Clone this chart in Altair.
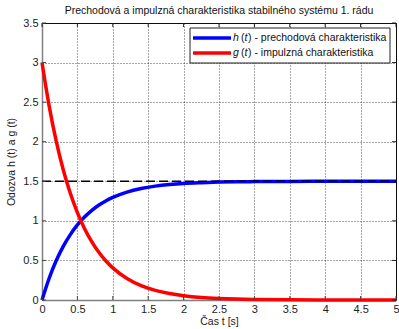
import altair as alt
import pandas as pd

t_vals = [0, 0.1, 0.2, 0.3, 0.4, 0.5, 0.6, 0.7, 0.8, 0.9, 1.0, 1.2, 1.4, 1.6, 1.8, 2.0,
          2.25, 2.5, 2.75, 3.0, 3.5, 4.0, 4.5, 5.0]
h_vals = [0, 0.272, 0.495, 0.677, 0.826, 0.948, 1.048, 1.130, 1.197, 1.252, 1.297, 1.364,
          1.409, 1.439, 1.459, 1.473, 1.483, 1.490, 1.494, 1.496, 1.4986, 1.4995, 1.4998, 1.5]
g_vals = [3.0, 2.456, 2.011, 1.646, 1.348, 1.104, 0.904, 0.740, 0.606, 0.496, 0.406, 0.272,
          0.182, 0.122, 0.082, 0.055, 0.033, 0.020, 0.012, 0.0074, 0.0027, 0.001, 0.0004, 0.0001]
steady_value = 1.5
x_ticks = [0, 0.5, 1, 1.5, 2, 2.5, 3, 3.5, 4, 4.5, 5]
y_ticks = [0, 0.5, 1, 1.5, 2, 2.5, 3, 3.5]

title = "Prechodová a impulzná charakteristika stabilného systému 1. rádu"
x_title = "Čas t [s]"
y_title = "Odozva h (t) a g (t)"

W, H = 354, 277
FONT = "Liberation Sans"

df = pd.DataFrame({"t": t_vals, "h": h_vals, "g": g_vals})
xs = alt.Scale(domain=[0, 5], nice=False)
ys = alt.Scale(domain=[0, 3.5], nice=False)

xax = alt.Axis(values=x_ticks, grid=True, gridDash=[1, 2], gridColor="#000", gridOpacity=0.7,
               domainColor="#808080", domainWidth=1.5, ticks=False, labelPadding=3,
               labelFont=FONT, labelFontSize=11, labelColor="#222", title=x_title,
               titleFont=FONT, titleFontSize=10.5, titleFontWeight="normal", titleColor="#222",
               titlePadding=2, labelFlush=False, labelOverlap=False, format="~g")
yax = alt.Axis(values=y_ticks, grid=True, gridDash=[1, 2], gridColor="#000", gridOpacity=0.7,
               domainColor="#808080", domainWidth=1.5, ticks=False, labelPadding=4,
               labelFont=FONT, labelFontSize=11, labelColor="#222", title=y_title,
               titleFont=FONT, titleFontSize=10.5, titleFontWeight="normal", titleColor="#222",
               titlePadding=6, labelFlush=False, labelOverlap=False, format="~g")


def X(f):
    return alt.X(f, scale=xs, axis=xax)


def Y(f):
    return alt.Y(f, scale=ys, axis=yax)


base = alt.Chart(df)

h_line = base.mark_line(color="#0000FF", strokeWidth=3.5, interpolate="monotone").encode(
    x=X("t:Q"), y=Y("h:Q"))
g_line = base.mark_line(color="#FF0000", strokeWidth=3.5, interpolate="monotone").encode(
    x=X("t:Q"), y=Y("g:Q"))

dash = alt.Chart(pd.DataFrame({"t": [0], "t1": [5], "h": [steady_value]})).mark_rule(
    color="black", strokeWidth=1.5, strokeDash=[9, 4]).encode(
    y=Y("h:Q"), x=X("t:Q"), x2="t1:Q")

xt = pd.DataFrame({"t": x_ticks})
yt = pd.DataFrame({"h": y_ticks})
tick_bottom = alt.Chart(xt).mark_rule(color="#444").encode(
    x=X("t:Q"), y=alt.value(H), y2=alt.value(H - 4))
tick_top = alt.Chart(xt).mark_rule(color="#222").encode(
    x=X("t:Q"), y=alt.value(0), y2=alt.value(4))
tick_left = alt.Chart(yt).mark_rule(color="#444").encode(
    y=Y("h:Q"), x=alt.value(0), x2=alt.value(4))
tick_right = alt.Chart(yt).mark_rule(color="#222").encode(
    y=Y("h:Q"), x=alt.value(W), x2=alt.value(W - 4))

one = pd.DataFrame({"a": [0]})
leg_box = alt.Chart(one).mark_rect(fill="white", stroke="#222", strokeWidth=1).encode(
    x=alt.value(148), x2=alt.value(348), y=alt.value(5), y2=alt.value(40))
leg_h = alt.Chart(one).mark_rule(color="#0000FF", strokeWidth=3.5).encode(
    x=alt.value(151), x2=alt.value(189), y=alt.value(15))
leg_g = alt.Chart(one).mark_rule(color="#FF0000", strokeWidth=3.5).encode(
    x=alt.value(151), x2=alt.value(189), y=alt.value(30))


def txt(s, x, y, italic=False):
    return alt.Chart(one).mark_text(text=s, font=FONT, fontSize=10.5, align="left",
                                    baseline="middle", color="#111",
                                    fontStyle="italic" if italic else "normal").encode(
        x=alt.value(x), y=alt.value(y))


leg_texts = [
    txt("h", 191, 15, True), txt("(", 199, 15), txt("t", 202.5, 15, True),
    txt(") - prechodová charakteristika", 206, 15),
    txt("g", 191, 30, True), txt("(", 199, 30), txt("t", 202.5, 30, True),
    txt(") - impulzná charakteristika", 206, 30),
]

chart = alt.layer(
    h_line, g_line, dash, tick_bottom, tick_top, tick_left, tick_right,
    leg_box, leg_h, leg_g, *leg_texts
).properties(
    width=W, height=H,
    title=alt.TitleParams(title, font=FONT, fontSize=10.5, fontWeight="normal", color="#111",
                          offset=1),
    autosize=alt.AutoSizeParams(type="none"),
    padding={"left": 42, "top": 23, "right": 3, "bottom": 29},
    background="white",
).configure_view(stroke="#111", strokeWidth=1)

chart.save("out.html", embed_options={"renderer": "svg", "actions": False})
